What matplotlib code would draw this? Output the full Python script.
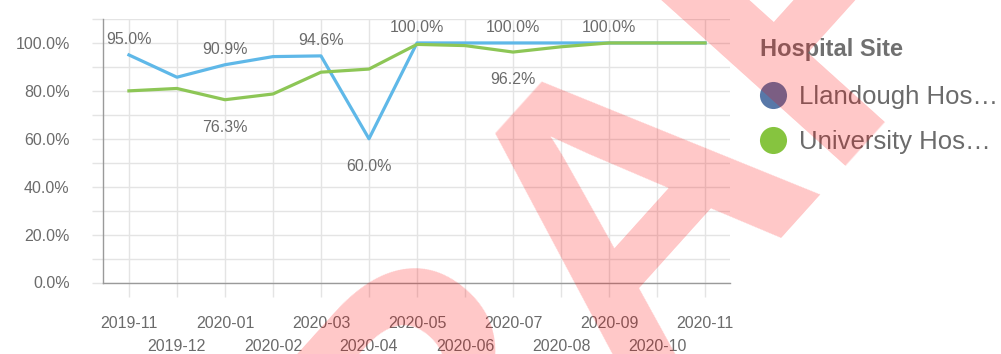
import numpy as np
import matplotlib.pyplot as plt
from matplotlib.lines import Line2D
from matplotlib.ticker import FixedLocator

plt.rcParams['font.family'] = ['Liberation Sans', 'DejaVu Sans']

months = ['2019-11', '2019-12', '2020-01', '2020-02', '2020-03', '2020-04', '2020-05',
          '2020-06', '2020-07', '2020-08', '2020-09', '2020-10', '2020-11']
llandough = [95.0, 85.7, 90.9, 94.3, 94.6, 60.0, 100.0, 100.0, 100.0, 100.0, 100.0, 100.0, 100.0]
university = [80.0, 81.0, 76.3, 78.7, 87.8, 89.1, 99.4, 98.9, 96.2, 98.4, 100.0, 100.0, 100.0]
series_names = ['Llandough Hos…', 'University Hos…']

# which points carry a value label (above / below the line)
llandough_above = [0, 2, 4, 6, 8, 10]
llandough_below = [5]
university_below = [2, 8]

line_blue = '#5fb8e8'
line_green = '#8dc656'
dot_blue = '#5878a8'
dot_green = '#86c43f'
grid_col = '#e4e4e4'
text_col = '#6b6b6b'

fig = plt.figure(figsize=(10.01, 3.54), dpi=100)
ax = fig.add_axes([103 / 1001, (354 - 282.5) / 354, (730 - 103) / 1001, 263.5 / 354])

x = np.arange(len(months))
ax.plot(x, llandough, color=line_blue, lw=2.3, solid_joinstyle='round', zorder=3)
ax.plot(x, university, color=line_green, lw=2.3, solid_joinstyle='round', zorder=4)


def value_label(i, v, dy):
    t = ax.annotate(f'{v:.1f}%', (x[i], v), xytext=(0, dy), textcoords='offset points',
                    ha='center', va='center', fontsize=11.5, color=text_col)
    t.set_clip_box(ax.bbox)
    t.set_clip_on(True)


for i in llandough_above:
    value_label(i, llandough[i], 11)
for i in llandough_below:
    value_label(i, llandough[i], -20)
for i in university_below:
    value_label(i, university[i], -20)

ax.set_xlim(-0.54, 12.52)
ax.set_ylim(0, 110)

# alternate month labels on two rows
ax.xaxis.set_major_locator(FixedLocator(x[::2]))
ax.xaxis.set_minor_locator(FixedLocator(x[1::2]))
ax.set_xticklabels(months[::2])
ax.set_xticklabels(months[1::2], minor=True)
ax.tick_params(axis='x', which='both', length=10, color=grid_col, width=1,
               labelsize=11.5, labelcolor=text_col)
ax.tick_params(axis='x', which='major', pad=14)
ax.tick_params(axis='x', which='minor', pad=31)

ax.set_yticks(np.arange(0, 101, 20))
ax.set_yticks(np.arange(10, 111, 20), minor=True)
ax.set_yticklabels([f'{v:.1f}%' for v in np.arange(0, 101, 20)])
ax.tick_params(axis='y', which='both', length=8, color=grid_col, width=1, pad=16,
               labelsize=11.5, labelcolor=text_col)

ax.grid(True, which='both', color=grid_col, lw=1)
ax.set_axisbelow(True)
for side in ['top', 'right']:
    ax.spines[side].set_visible(False)
for side in ['left', 'bottom']:
    ax.spines[side].set_color('#9a9a9a')
    ax.spines[side].set_linewidth(1)

handles = [Line2D([], [], ls='', marker='o', markersize=19.5, markerfacecolor=c,
                  markeredgecolor='none') for c in [dot_blue, dot_green]]
leg = fig.legend(handles, series_names, title='Hospital Site', loc='upper left',
                 bbox_to_anchor=(760 / 1001, 1 - 38 / 354), frameon=False, fontsize=18.5,
                 title_fontproperties={'weight': 'bold', 'size': 17}, alignment='left',
                 handlelength=1.0, handletextpad=0.5, labelspacing=0.85,
                 borderpad=0, borderaxespad=0, labelcolor=text_col)
leg.get_title().set_color('#707070')
leg._legend_box.sep = 17

fig.text(0.610, 0.330, 'DRAFT', fontsize=295, fontweight='bold', rotation=48,
         rotation_mode='anchor', ha='center', va='center', color='red', alpha=0.22,
         zorder=10)

fig.savefig('out.png', dpi=100)
